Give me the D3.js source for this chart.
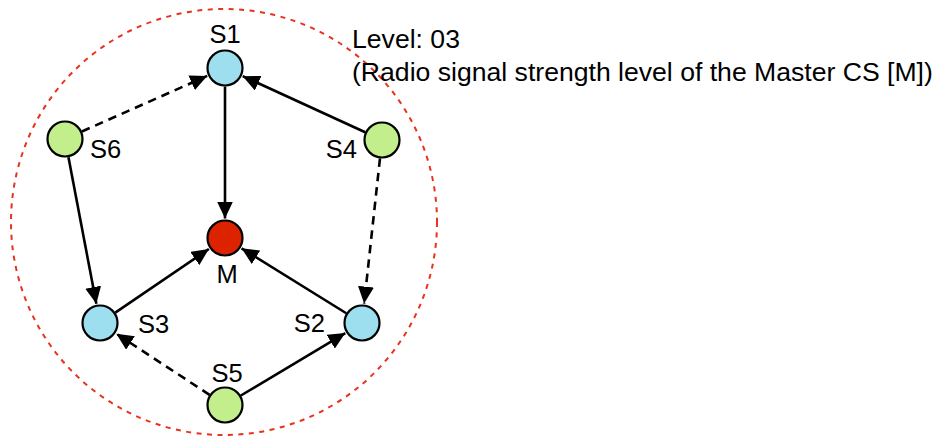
<!DOCTYPE html>
<html>
<head>
<meta charset="utf-8">
<script src="https://cdn.jsdelivr.net/npm/d3@7"></script>
<style>
  html, body { margin: 0; padding: 0; background: #fff; }
  svg { display: block; }
  text { font-family: "Liberation Sans", Arial, sans-serif; fill: #000; }
</style>
</head>
<body>
<svg id="chart" width="937" height="438"></svg>
<script>
// ---- Data ----
const nodeNames = ["M", "S1", "S2", "S3", "S4", "S5", "S6"];
const nodeKinds = ["master", "level1", "level1", "level1", "level2", "level2", "level2"];
// node coordinates in diagram units (master at origin)
const nodeX = [0, 0, 137, -125, 157, 0, -160];
const nodeY = [0, -170, 85, 85, -98, 167, -99];
const edgeSource = ["S1", "S4", "S6", "S6", "S4", "S3", "S2", "S5", "S5"];
const edgeTarget = ["M", "S1", "S1", "S3", "S2", "M", "M", "S3", "S2"];
const edgeDashed = [false, false, true, false, true, false, false, true, false];
const levelText = ["Level: 03", "(Radio signal strength level of the Master CS [M])"];

// ---- Layout / style ----
const W = 937, H = 438;
const x = d3.scaleLinear().domain([-225, 712]).range([0, W]);
const y = d3.scaleLinear().domain([-238, 200]).range([0, H]);
const R = 17.5;
const colors = { master: "#dd2200", level1: "#9ddfee", level2: "#c2ee8b" };
// label placement: [dx, dy, anchor]
const labelPos = {
  M: [2, 45, "middle"], S1: [0, -25, "middle"], S2: [-37, 9, "end"],
  S3: [38, 10, "start"], S4: [-25, 18, "end"], S5: [2, -23, "middle"],
  S6: [25, 19, "start"]
};

const svg = d3.select("#chart");
const nodes = nodeNames.map((n, i) => ({ name: n, kind: nodeKinds[i], cx: x(nodeX[i]), cy: y(nodeY[i]) }));
const byName = Object.fromEntries(nodes.map(n => [n.name, n]));

// range circle
svg.append("circle")
  .attr("cx", x(-1)).attr("cy", y(-16)).attr("r", 213)
  .attr("fill", "none").attr("stroke", "#e8321e")
  .attr("stroke-width", 2).attr("stroke-dasharray", "5,5.5");

// arrow marker
svg.append("defs").append("marker")
  .attr("id", "arrow").attr("viewBox", "0 0 17 16")
  .attr("refX", 17).attr("refY", 8)
  .attr("markerWidth", 17).attr("markerHeight", 16)
  .attr("markerUnits", "userSpaceOnUse").attr("orient", "auto")
  .append("path").attr("d", "M0,0 L17,8 L0,16 Z").attr("fill", "#000");

// edges
const edges = edgeSource.map((s, i) => ({ s: byName[s], t: byName[edgeTarget[i]], dashed: edgeDashed[i] }));
svg.append("g").selectAll("line").data(edges).join("line")
  .each(function(d) {
    const dx = d.t.cx - d.s.cx, dy = d.t.cy - d.s.cy;
    const L = Math.hypot(dx, dy), ux = dx / L, uy = dy / L;
    d3.select(this)
      .attr("x1", d.s.cx + ux * (R + 1)).attr("y1", d.s.cy + uy * (R + 1))
      .attr("x2", d.t.cx - ux * (R + 2)).attr("y2", d.t.cy - uy * (R + 2));
  })
  .attr("stroke", "#000").attr("stroke-width", 2.6)
  .attr("stroke-dasharray", d => d.dashed ? "8.5,6" : null)
  .attr("marker-end", "url(#arrow)");

// nodes
svg.append("g").selectAll("circle").data(nodes).join("circle")
  .attr("cx", d => d.cx).attr("cy", d => d.cy).attr("r", R)
  .attr("fill", d => colors[d.kind]).attr("stroke", "#000").attr("stroke-width", 2.2);

// labels
svg.append("g").selectAll("text").data(nodes).join("text")
  .attr("x", d => d.cx + labelPos[d.name][0])
  .attr("y", d => d.cy + labelPos[d.name][1])
  .attr("text-anchor", d => labelPos[d.name][2])
  .attr("font-size", 25.5)
  .text(d => d.name);

// level annotation
svg.append("g").selectAll("text").data(levelText).join("text")
  .attr("x", 352).attr("y", (d, i) => 47.5 + i * 33)
  .attr("font-size", 26.6)
  .text(d => d);
</script>
</body>
</html>
